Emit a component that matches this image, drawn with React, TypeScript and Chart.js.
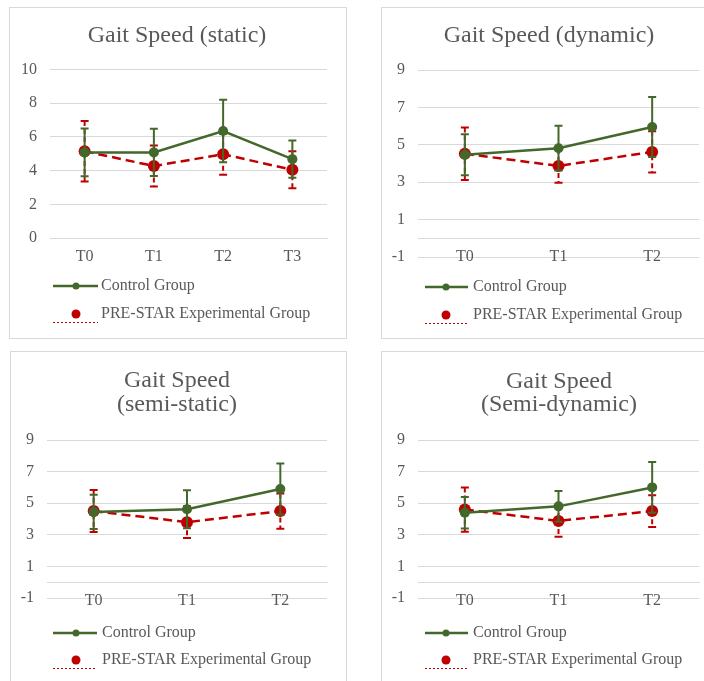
import React, { useEffect, useRef } from 'react';
import { Chart, registerables } from 'chart.js';
Chart.register(...registerables);

const FONT = "'Liberation Serif', 'Times New Roman', serif";
const TEXT = '#595959';
const GRID = '#d9d9d9';
const GREEN = '#43682b';
const RED = '#c00000';

const legendControl = 'Control Group';
const legendExp = 'PRE-STAR Experimental Group';

// Panel 1: static
const staticTitle = ['Gait Speed (static)'];
const staticLabels = ['T0', 'T1', 'T2', 'T3'];
const staticControl = [5.08, 5.08, 6.35, 4.68];
const staticControlErr = [1.42, 1.4, 1.85, 1.1];
const staticExp = [5.15, 4.27, 4.97, 4.05];
const staticExpErr = [1.8, 1.22, 1.22, 1.1];

// Panel 2: dynamic
const dynamicTitle = ['Gait Speed (dynamic)'];
const dynamicLabels = ['T0', 'T1', 'T2'];
const dynamicControl = [4.47, 4.82, 5.95];
const dynamicControlErr = [1.1, 1.2, 1.6];
const dynamicExp = [4.52, 3.87, 4.62];
const dynamicExpErr = [1.4, 0.9, 1.1];

// Panel 3: semi-static
const semiStaticTitle = ['Gait Speed', '(semi-static)'];
const semiStaticLabels = ['T0', 'T1', 'T2'];
const semiStaticControl = [4.45, 4.62, 5.9];
const semiStaticControlErr = [1.08, 1.2, 1.62];
const semiStaticExp = [4.5, 3.8, 4.5];
const semiStaticExpErr = [1.33, 1.0, 1.12];

// Panel 4: semi-dynamic
const semiDynamicTitle = ['Gait Speed', '(Semi-dynamic)'];
const semiDynamicLabels = ['T0', 'T1', 'T2'];
const semiDynamicControl = [4.4, 4.8, 6.0];
const semiDynamicControlErr = [1.0, 0.97, 1.6];
const semiDynamicExp = [4.6, 3.88, 4.5];
const semiDynamicExpErr = [1.4, 1.0, 1.0];

type Spec = {
  box: { left: number; top: number; w: number; h: number };
  area: { L: number; R: number; T: number; B: number };
  yMin: number;
  yMax: number;
  zeroAxis: boolean;
  title: string[];
  titleX: number;
  titleBaselines: number[];
  legend: { x1: number; x2: number; mx: number; tx: number; y1: number; y2: number; yd: number };
  labels: string[];
  control: number[];
  controlErr: number[];
  exp: number[];
  expErr: number[];
};

const specs: Spec[] = [
  {
    box: { left: 9, top: 7, w: 338, h: 332 },
    area: { L: 50, R: 327, T: 69.5, B: 238 },
    yMin: 0, yMax: 10, zeroAxis: false,
    title: staticTitle, titleX: 177, titleBaselines: [42],
    legend: { x1: 53, x2: 98, mx: 76, tx: 101, y1: 286, y2: 314, yd: 322 },
    labels: staticLabels, control: staticControl, controlErr: staticControlErr, exp: staticExp, expErr: staticExpErr,
  },
  {
    box: { left: 381, top: 7, w: 360, h: 332 },
    area: { L: 418, R: 699, T: 70, B: 257 },
    yMin: -1, yMax: 9, zeroAxis: true,
    title: dynamicTitle, titleX: 549, titleBaselines: [42],
    legend: { x1: 425, x2: 468, mx: 446, tx: 473, y1: 287, y2: 315, yd: 323 },
    labels: dynamicLabels, control: dynamicControl, controlErr: dynamicControlErr, exp: dynamicExp, expErr: dynamicExpErr,
  },
  {
    box: { left: 10, top: 351, w: 337, h: 360 },
    area: { L: 47, R: 327, T: 440, B: 598 },
    yMin: -1, yMax: 9, zeroAxis: true,
    title: semiStaticTitle, titleX: 177, titleBaselines: [387, 411],
    legend: { x1: 53, x2: 97, mx: 76, tx: 102, y1: 633, y2: 660, yd: 668 },
    labels: semiStaticLabels, control: semiStaticControl, controlErr: semiStaticControlErr, exp: semiStaticExp, expErr: semiStaticExpErr,
  },
  {
    box: { left: 381, top: 351, w: 360, h: 360 },
    area: { L: 418, R: 699, T: 440, B: 598 },
    yMin: -1, yMax: 9, zeroAxis: true,
    title: semiDynamicTitle, titleX: 559, titleBaselines: [388, 411],
    legend: { x1: 425, x2: 468, mx: 446, tx: 473, y1: 633, y2: 660, yd: 668 },
    labels: semiDynamicLabels, control: semiDynamicControl, controlErr: semiDynamicControlErr, exp: semiDynamicExp, expErr: semiDynamicExpErr,
  },
];

function Panel({ spec }: { spec: Spec }) {
  const ref = useRef<HTMLCanvasElement | null>(null);
  const cw = spec.box.w - 2;
  const ch = spec.box.h - 2;
  const cx = spec.box.left + 1;
  const cy = spec.box.top + 1;

  useEffect(() => {
    const canvas = ref.current;
    if (!canvas) return;
    const yW = 40;
    const xH = spec.zeroAxis ? 0 : 30;
    const L = spec.area.L - cx;
    const R = spec.area.R - cx;
    const T = spec.area.T - cy;
    const B = spec.area.B - cy;
    const errs = [spec.controlErr, spec.expErr];

    const errorPlugin = {
      id: 'errorBars',
      beforeDatasetDraw(chart: any, args: any) {
        const i = args.index;
        const meta = chart.getDatasetMeta(i);
        const ys = chart.scales.y;
        const vals = chart.data.datasets[i].data as number[];
        const ctx = chart.ctx;
        ctx.save();
        ctx.strokeStyle = i === 0 ? GREEN : RED;
        ctx.lineWidth = 2;
        meta.data.forEach((pt: any, j: number) => {
          const x = pt.x;
          const top = ys.getPixelForValue(vals[j] + errs[i][j]);
          const bot = ys.getPixelForValue(vals[j] - errs[i][j]);
          ctx.setLineDash(i === 0 ? [] : [5, 3]);
          ctx.beginPath();
          ctx.moveTo(x, top);
          ctx.lineTo(x, bot);
          ctx.stroke();
          ctx.setLineDash([]);
          ctx.beginPath();
          ctx.moveTo(x - 4, top);
          ctx.lineTo(x + 4, top);
          ctx.moveTo(x - 4, bot);
          ctx.lineTo(x + 4, bot);
          ctx.stroke();
        });
        ctx.restore();
      },
    };

    const decorPlugin = {
      id: 'decor',
      afterDraw(chart: any) {
        const ctx = chart.ctx;
        ctx.save();
        ctx.fillStyle = TEXT;
        ctx.font = `24px ${FONT}`;
        ctx.textAlign = 'center';
        ctx.textBaseline = 'alphabetic';
        spec.title.forEach((t, k) => ctx.fillText(t, spec.titleX - cx, spec.titleBaselines[k] - cy));
        const lg = spec.legend;
        // control entry
        ctx.strokeStyle = GREEN;
        ctx.lineWidth = 2.5;
        ctx.beginPath();
        ctx.moveTo(lg.x1 - cx, lg.y1 - cy);
        ctx.lineTo(lg.x2 - cx, lg.y1 - cy);
        ctx.stroke();
        ctx.fillStyle = GREEN;
        ctx.beginPath();
        ctx.arc(lg.mx - cx, lg.y1 - cy, 3.5, 0, Math.PI * 2);
        ctx.fill();
        // experimental entry
        ctx.fillStyle = RED;
        ctx.beginPath();
        ctx.arc(lg.mx - cx, lg.y2 - cy, 4.5, 0, Math.PI * 2);
        ctx.fill();
        ctx.strokeStyle = RED;
        ctx.lineWidth = 1;
        ctx.setLineDash([2, 2]);
        ctx.beginPath();
        ctx.moveTo(lg.x1 - cx, lg.yd - cy + 0.5);
        ctx.lineTo(lg.x2 - cx, lg.yd - cy + 0.5);
        ctx.stroke();
        ctx.setLineDash([]);
        ctx.fillStyle = TEXT;
        ctx.font = `16px ${FONT}`;
        ctx.textAlign = 'left';
        ctx.textBaseline = 'middle';
        ctx.fillText(legendControl, lg.tx - cx, lg.y1 - cy);
        ctx.fillText(legendExp, lg.tx - cx, lg.y2 - cy);
        ctx.restore();
      },
    };

    const chart = new Chart(canvas, {
      type: 'line',
      data: {
        labels: spec.labels,
        datasets: [
          {
            label: legendControl,
            data: spec.control,
            borderColor: GREEN,
            backgroundColor: GREEN,
            borderWidth: 2.5,
            pointRadius: 5,
            pointBackgroundColor: GREEN,
            pointBorderColor: GREEN,
            pointBorderWidth: 0,
            tension: 0,
          },
          {
            label: legendExp,
            data: spec.exp,
            borderColor: RED,
            backgroundColor: RED,
            borderWidth: 2.5,
            borderDash: [9, 5],
            pointRadius: 6,
            pointBackgroundColor: RED,
            pointBorderColor: RED,
            pointBorderWidth: 0,
            tension: 0,
          },
        ],
      },
      options: {
        responsive: false,
        animation: false,
        devicePixelRatio: 1,
        layout: { padding: { left: L - yW, right: cw - R, top: T, bottom: ch - B - xH } },
        plugins: { legend: { display: false }, title: { display: false }, tooltip: { enabled: false } },
        scales: {
          x: {
            type: 'category',
            offset: true,
            position: spec.zeroAxis ? ({ y: 0 } as any) : 'bottom',
            grid: { display: true, drawOnChartArea: false, drawTicks: false },
            border: { display: true, color: GRID, width: 1 },
            ticks: { font: { family: FONT, size: 16 }, color: TEXT, padding: 9, maxRotation: 0 },
            afterFit: (s: any) => { s.height = xH; },
          },
          y: {
            type: 'linear',
            min: spec.yMin,
            max: spec.yMax,
            ticks: { stepSize: 2, font: { family: FONT, size: 16 }, color: TEXT, padding: 13 },
            grid: { color: GRID, drawTicks: false, lineWidth: 1 },
            border: { display: false },
            afterFit: (s: any) => { s.width = yW; },
          },
        },
      } as any,
      plugins: [errorPlugin, decorPlugin],
    });
    return () => chart.destroy();
  }, []);

  return (
    <div
      style={{
        position: 'absolute',
        left: spec.box.left,
        top: spec.box.top,
        width: spec.box.w,
        height: spec.box.h,
        border: `1px solid ${GRID}`,
        boxSizing: 'border-box',
        background: '#fff',
      }}
    >
      <canvas ref={ref} width={cw} height={ch} style={{ display: 'block', width: cw, height: ch }} />
    </div>
  );
}

export default function App() {
  return (
    <div style={{ position: 'absolute', left: 0, top: 0, width: 704, height: 681, overflow: 'hidden', background: '#fff' }}>
      {specs.map((s, i) => (
        <Panel key={i} spec={s} />
      ))}
    </div>
  );
}
